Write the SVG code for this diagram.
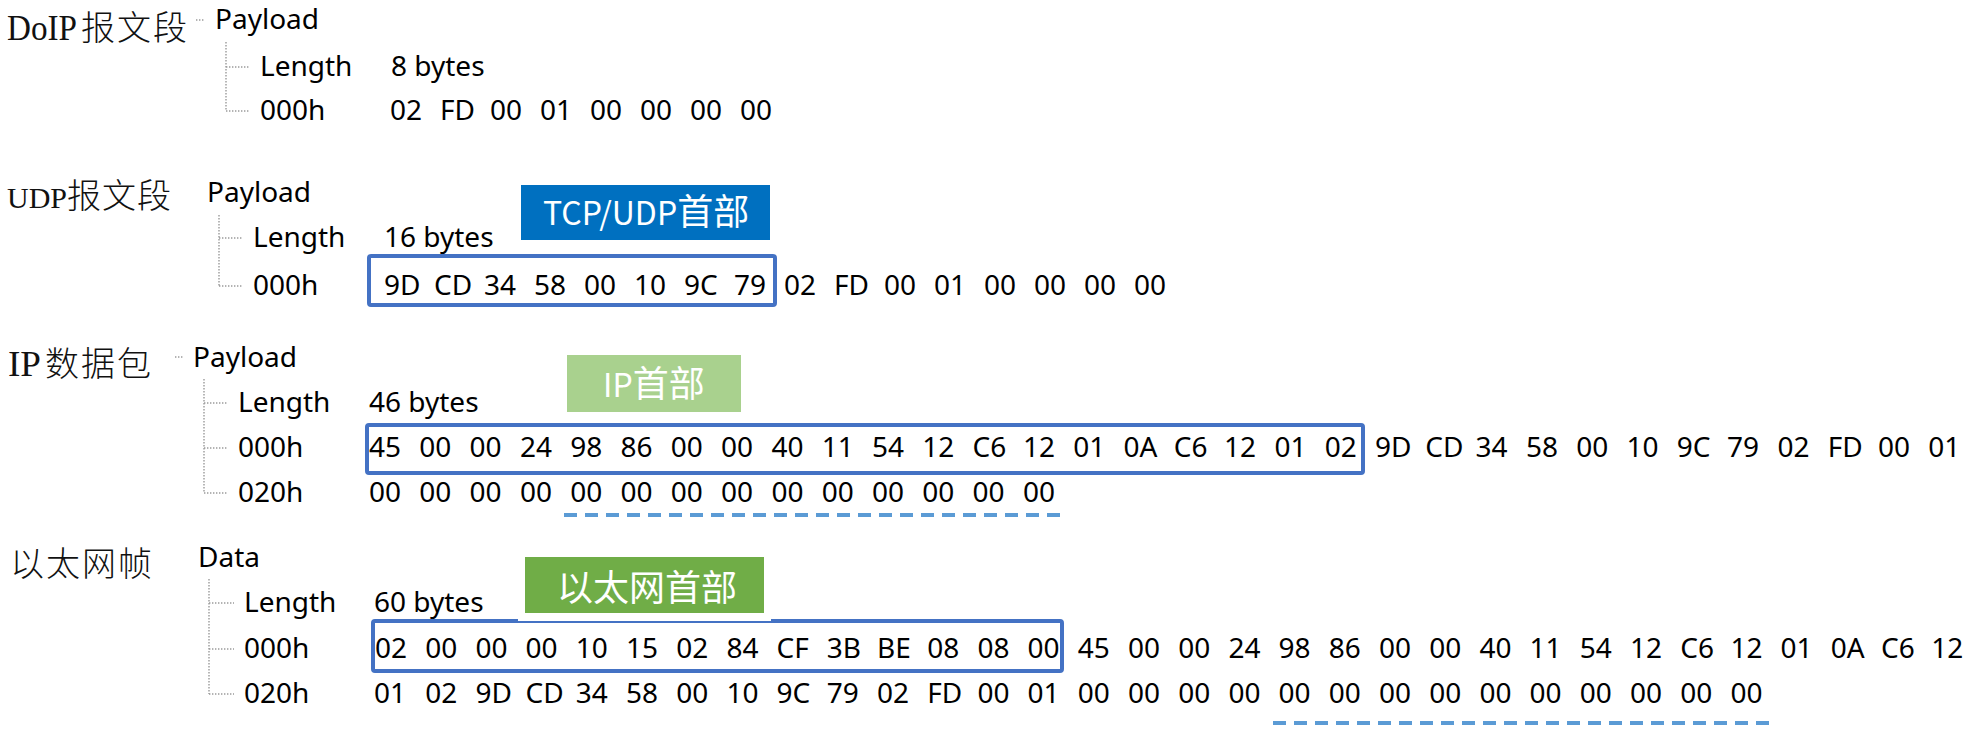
<svg xmlns="http://www.w3.org/2000/svg" width="1978" height="734" viewBox="0 0 1978 734">
<style>
.t{font-family:"Noto Sans","Noto Sans CJK SC",sans-serif;font-size:28px;fill:#000}
.lat{font-family:"Liberation Serif",serif;font-size:35px;fill:#111}
.cjk{font-family:"Noto Sans CJK SC",sans-serif;font-size:34px;font-weight:300;letter-spacing:2px;fill:#111}
.tree{fill:none;stroke:#9a9a9a;stroke-width:1.4;stroke-dasharray:1.4 1.6}
.hl{fill:none;stroke:#4472C4;stroke-width:4}
.pad{fill:none;stroke:#5B9BD5;stroke-width:4;stroke-dasharray:13 8}
.tag{font-family:"Noto Sans CJK SC",sans-serif;font-size:36px;fill:#fff}
.tag .l{font-size:32px}
</style>
<rect width="1978" height="734" fill="#fff"/>

<g id="connectors">
  <path class="tree" d="M196 20H204 M226 42V111 M226 67H250 M226 111H250"/>
  <path class="tree" d="M219 215V286 M219 238H243 M219 286H243"/>
  <path class="tree" d="M175 357H183 M204 379V493 M204 403H228 M204 448H228 M204 493H228"/>
  <path class="tree" d="M209 579V694 M209 603H234 M209 649H234 M209 694H234"/>
</g>

<g id="doip">
  <text y="40"><tspan class="lat" x="7" textLength="70" lengthAdjust="spacingAndGlyphs">DoIP</tspan><tspan class="cjk" x="81">报文段</tspan></text>
  <text class="t" x="215" y="29">Payload</text>
  <text class="t" x="260" y="76">Length</text>
  <text class="t" x="391" y="76">8 bytes</text>
  <text class="t" x="260" y="120">000h</text>
  <text class="t" y="120"><tspan x="390">02</tspan><tspan x="440">FD</tspan><tspan x="490">00</tspan><tspan x="540">01</tspan><tspan x="590">00</tspan><tspan x="640">00</tspan><tspan x="690">00</tspan><tspan x="740">00</tspan></text>
</g>

<g id="udp">
  <text y="208"><tspan class="lat" x="7" style="font-size:30px">UDP</tspan><tspan class="cjk" x="67" style="letter-spacing:1px">报文段</tspan></text>
  <text class="t" x="207" y="202">Payload</text>
  <text class="t" x="253" y="247">Length</text>
  <text class="t" x="384" y="247">16 bytes</text>
  <text class="t" x="253" y="295">000h</text>
  <text class="t" y="295"><tspan x="384">9D</tspan><tspan x="434">CD</tspan><tspan x="484">34</tspan><tspan x="534">58</tspan><tspan x="584">00</tspan><tspan x="634">10</tspan><tspan x="684">9C</tspan><tspan x="734">79</tspan><tspan x="784">02</tspan><tspan x="834">FD</tspan><tspan x="884">00</tspan><tspan x="934">01</tspan><tspan x="984">00</tspan><tspan x="1034">00</tspan><tspan x="1084">00</tspan><tspan x="1134">00</tspan></text>
</g>

<g id="ip">
  <text y="376"><tspan class="lat" x="8" textLength="33" lengthAdjust="spacingAndGlyphs">IP</tspan><tspan class="cjk" x="45">数据包</tspan></text>
  <text class="t" x="193" y="367">Payload</text>
  <text class="t" x="238" y="412">Length</text>
  <text class="t" x="369" y="412">46 bytes</text>
  <text class="t" x="238" y="457">000h</text>
  <text class="t" x="238" y="502">020h</text>
  <text class="t" y="457"><tspan x="369">45</tspan><tspan x="419.3">00</tspan><tspan x="469.6">00</tspan><tspan x="519.9">24</tspan><tspan x="570.2">98</tspan><tspan x="620.5">86</tspan><tspan x="670.8">00</tspan><tspan x="721.1">00</tspan><tspan x="771.4">40</tspan><tspan x="821.7">11</tspan><tspan x="872">54</tspan><tspan x="922.3">12</tspan><tspan x="972.6">C6</tspan><tspan x="1022.9">12</tspan><tspan x="1073.2">01</tspan><tspan x="1123.5">0A</tspan><tspan x="1173.8">C6</tspan><tspan x="1224.1">12</tspan><tspan x="1274.4">01</tspan><tspan x="1324.7">02</tspan><tspan x="1375">9D</tspan><tspan x="1425.3">CD</tspan><tspan x="1475.6">34</tspan><tspan x="1525.9">58</tspan><tspan x="1576.2">00</tspan><tspan x="1626.5">10</tspan><tspan x="1676.8">9C</tspan><tspan x="1727.1">79</tspan><tspan x="1777.4">02</tspan><tspan x="1827.7">FD</tspan><tspan x="1878">00</tspan><tspan x="1928.3">01</tspan></text>
  <text class="t" y="502"><tspan x="369">00</tspan><tspan x="419.3">00</tspan><tspan x="469.6">00</tspan><tspan x="519.9">00</tspan><tspan x="570.2">00</tspan><tspan x="620.5">00</tspan><tspan x="670.8">00</tspan><tspan x="721.1">00</tspan><tspan x="771.4">00</tspan><tspan x="821.7">00</tspan><tspan x="872">00</tspan><tspan x="922.3">00</tspan><tspan x="972.6">00</tspan><tspan x="1022.9">00</tspan></text>
</g>

<g id="eth">
  <text class="cjk" x="10" y="576">以太网帧</text>
  <text class="t" x="198" y="567">Data</text>
  <text class="t" x="244" y="612">Length</text>
  <text class="t" x="374" y="612">60 bytes</text>
  <text class="t" x="244" y="658">000h</text>
  <text class="t" x="244" y="703">020h</text>
  <text class="t" y="658"><tspan x="375">02</tspan><tspan x="425.2">00</tspan><tspan x="475.4">00</tspan><tspan x="525.6">00</tspan><tspan x="575.8">10</tspan><tspan x="626">15</tspan><tspan x="676.2">02</tspan><tspan x="726.4">84</tspan><tspan x="776.6">CF</tspan><tspan x="826.8">3B</tspan><tspan x="877">BE</tspan><tspan x="927.2">08</tspan><tspan x="977.4">08</tspan><tspan x="1027.6">00</tspan><tspan x="1077.8">45</tspan><tspan x="1128">00</tspan><tspan x="1178.2">00</tspan><tspan x="1228.4">24</tspan><tspan x="1278.6">98</tspan><tspan x="1328.8">86</tspan><tspan x="1379">00</tspan><tspan x="1429.2">00</tspan><tspan x="1479.4">40</tspan><tspan x="1529.6">11</tspan><tspan x="1579.8">54</tspan><tspan x="1630">12</tspan><tspan x="1680.2">C6</tspan><tspan x="1730.4">12</tspan><tspan x="1780.6">01</tspan><tspan x="1830.8">0A</tspan><tspan x="1881">C6</tspan><tspan x="1931.2">12</tspan></text>
  <text class="t" y="703"><tspan x="374">01</tspan><tspan x="425.2">02</tspan><tspan x="475.4">9D</tspan><tspan x="525.6">CD</tspan><tspan x="575.8">34</tspan><tspan x="626">58</tspan><tspan x="676.2">00</tspan><tspan x="726.4">10</tspan><tspan x="776.6">9C</tspan><tspan x="826.8">79</tspan><tspan x="877">02</tspan><tspan x="927.2">FD</tspan><tspan x="977.4">00</tspan><tspan x="1027.6">01</tspan><tspan x="1077.8">00</tspan><tspan x="1128">00</tspan><tspan x="1178.2">00</tspan><tspan x="1228.4">00</tspan><tspan x="1278.6">00</tspan><tspan x="1328.8">00</tspan><tspan x="1379">00</tspan><tspan x="1429.2">00</tspan><tspan x="1479.4">00</tspan><tspan x="1529.6">00</tspan><tspan x="1579.8">00</tspan><tspan x="1630">00</tspan><tspan x="1680.2">00</tspan><tspan x="1730.4">00</tspan></text>
</g>

<g id="box-udp-header"><rect class="hl" x="369" y="256" width="406" height="49" rx="2"/></g>
<g id="box-ip-header"><rect class="hl" x="367" y="425" width="996" height="48" rx="2"/></g>
<g id="box-eth-header"><rect class="hl" x="373" y="621" width="689" height="50" rx="2"/></g>

<g id="pad-ip"><path class="pad" d="M564 515H1063"/></g>
<g id="pad-eth"><path class="pad" d="M1273 723H1774"/></g>

<g id="tag-tcpudp">
  <rect x="521" y="185" width="249" height="55" fill="#0070C0"/>
  <text class="tag" x="543" y="225"><tspan class="l">TCP/UDP</tspan>首部</text>
</g>
<g id="tag-ip">
  <rect x="567" y="355" width="174" height="57" fill="#A9D18E"/>
  <text class="tag" x="603" y="397"><tspan class="l">IP</tspan>首部</text>
</g>
<g id="tag-eth">
  <rect x="518" y="613" width="253" height="8" fill="#fff"/>
  <rect x="525" y="557" width="239" height="56" fill="#70AD47"/>
  <text class="tag" x="557" y="601">以太网首部</text>
</g>
</svg>
